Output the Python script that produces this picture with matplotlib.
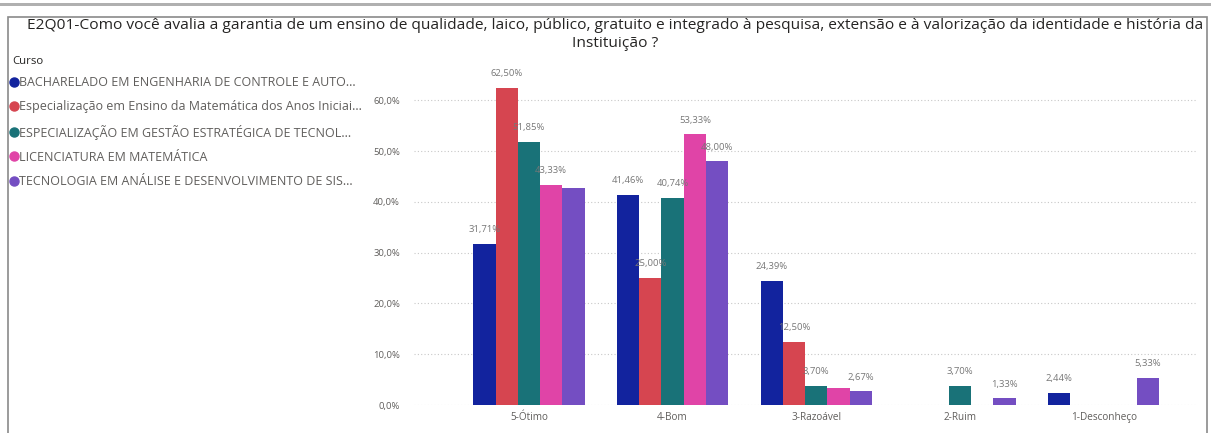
import matplotlib
matplotlib.use("Agg")
import matplotlib.pyplot as plt
from matplotlib.patches import Rectangle
from matplotlib.lines import Line2D
import numpy as np

title = ("E2Q01-Como você avalia a garantia de um ensino de qualidade, laico, público, gratuito e integrado à pesquisa, extensão e à valorização da identidade e história da\nInstituição ?")
categories = ["5-Ótimo", "4-Bom", "3-Razoável", "2-Ruim", "1-Desconheço"]
series_names = [
    "BACHARELADO EM ENGENHARIA DE CONTROLE E AUTO...",
    "Especialização em Ensino da Matemática dos Anos Iniciai...",
    "ESPECIALIZAÇÃO EM GESTÃO ESTRATÉGICA DE TECNOL...",
    "LICENCIATURA EM MATEMÁTICA",
    "TECNOLOGIA EM ANÁLISE E DESENVOLVIMENTO DE SIS...",
]
colors = ["#12239E", "#D64550", "#197278", "#E044A7", "#744EC2"]
bacharelado = [31.71, 41.46, 24.39, 0, 2.44]
esp_matematica = [62.50, 25.00, 12.50, 0, 0]
esp_gestao = [51.85, 40.74, 3.70, 3.70, 0]
licenciatura = [43.33, 53.33, 3.33, 0, 0]
tecnologia = [42.67, 48.00, 2.67, 1.33, 5.33]
values = [bacharelado, esp_matematica, esp_gestao, licenciatura, tecnologia]
yticks = [0, 10, 20, 30, 40, 50, 60]
hidden_labels = {(4, 0), (3, 2)}

plt.rcParams['font.family'] = ['Open Sans', 'DejaVu Sans']
fig = plt.figure(figsize=(12.11, 4.33), dpi=100)

# frame
fig.patches.append(Rectangle((8/1211, -0.05), 1199/1211, 1 - 17/433 + 0.05,
                             transform=fig.transFigure, fill=False,
                             edgecolor="#8a8a8a", linewidth=1.2))
fig.patches.append(Rectangle((0, 1 - 6/433), 1, 3/433, transform=fig.transFigure,
                             color="#b0b0b0", linewidth=0))

fig.text(615/1211, 1 - 18/433, title, ha="center", va="top", fontsize=11.15,
         color="#252423", linespacing=1.25)

ax = fig.add_axes([414/1211, 1 - 405/433, 783/1211, (405 - 70)/433])
n = len(values)
w = 0.155
x = np.arange(len(categories))
tc = "#605E5C"
for i, (vals, c) in enumerate(zip(values, colors)):
    pos = x + (i - (n - 1) / 2) * w
    ax.bar(pos, vals, width=w, color=c, zorder=3)
    for j, (p, v) in enumerate(zip(pos, vals)):
        if v > 0 and (i, j) not in hidden_labels:
            ax.annotate(f"{v:.2f}%".replace(".", ","), (p, v), xytext=(0, 7),
                        textcoords="offset points", ha="center", va="bottom",
                        fontsize=6.8, color="#777777", zorder=4)

ax.set_ylim(0, 66)
ax.set_xlim(-0.8, 4.65)
ax.set_yticks(yticks)
ax.set_yticklabels([f"{t:.1f}%".replace(".", ",") for t in yticks], fontsize=6.8, color=tc)
ax.set_xticks(x)
ax.set_xticklabels(categories, fontsize=7.2, color=tc)
ax.tick_params(length=0, pad=5)
ax.tick_params(axis="y", pad=10)
for s in ax.spines.values():
    s.set_visible(False)
ax.yaxis.grid(True, linestyle=(0, (1, 2)), color="#c8c8c8", linewidth=0.8, zorder=0)

# legend
fig.text(12/1211, 1 - 62/433, "Curso", fontsize=8.2, color="#252423", va="center", ha="left")
handles = [Line2D([], [], marker="o", linestyle="", markersize=6.5, color=c) for c in colors]
leg = fig.legend(handles, series_names, loc="upper left", bbox_to_anchor=(5/1211, 1 - 71/433),
                 frameon=False, fontsize=9.0, labelcolor="#605E5C", handlelength=0.6,
                 handletextpad=0.15, labelspacing=0.9, borderaxespad=0)

fig.savefig("out.png", dpi=100)
